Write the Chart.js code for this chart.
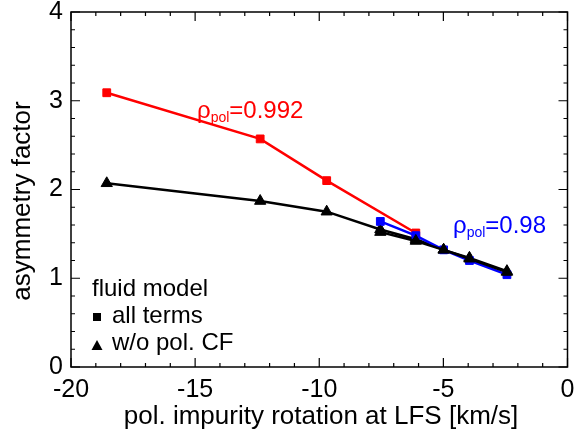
<!DOCTYPE html>
<html>
<head>
<meta charset="utf-8">
<script src="https://cdn.jsdelivr.net/npm/chart.js@4"></script>
<style>
html,body{margin:0;padding:0;background:#fff;}
#wrap{width:575px;height:430px;}
</style>
</head>
<body>
<div id="wrap"><canvas id="c" width="575" height="430"></canvas></div>
<script>
// Data
const xRed   = [-18.56, -12.38, -9.70, -6.11];
const yRed   = [3.09, 2.57, 2.10, 1.51];
const xBlue  = [-7.54, -6.11, -4.99, -3.95, -2.44];
const yBlue  = [1.64, 1.48, 1.32, 1.20, 1.04];
const xBlackA = [-18.56, -12.38, -9.70, -7.54, -6.11, -4.99, -3.95, -2.44];
const yBlackA = [2.07, 1.87, 1.75, 1.55, 1.44, 1.32, 1.23, 1.08];
const xBlackB = [-7.54, -6.11, -4.99, -3.95, -2.44];
const yBlackB = [1.52, 1.42, 1.32, 1.22, 1.07];
const xTicks = [-20, -15, -10, -5, 0];
const yTicks = [0, 1, 2, 3, 4];
const xTitle = 'pol. impurity rotation at LFS [km/s]';
const yTitle = 'asymmetry factor';

const FONT = '"Liberation Sans", Arial, sans-serif';
const pts = (xs, ys) => xs.map((x, i) => ({x: x, y: ys[i]}));

const boxTicks = {
  id: 'boxTicks',
  afterDraw(chart) {
    const ctx = chart.ctx, a = chart.chartArea;
    const xs = chart.scales.x, ys = chart.scales.y;
    ctx.save();
    ctx.strokeStyle = '#000';
    ctx.lineWidth = 1.5;
    ctx.strokeRect(a.left, a.top, a.right - a.left, a.bottom - a.top);
    ctx.lineWidth = 1.2;
    for (let v = -20; v <= 0; v += 1) {
      const p = xs.getPixelForValue(v);
      const L = (v % 5 === 0) ? 9 : 4;
      ctx.beginPath();
      ctx.moveTo(p, a.bottom); ctx.lineTo(p, a.bottom - L);
      ctx.moveTo(p, a.top); ctx.lineTo(p, a.top + L);
      ctx.stroke();
    }
    for (let k = 0; k <= 20; k++) {
      const v = k * 0.2;
      const p = ys.getPixelForValue(v);
      const L = (k % 5 === 0) ? 9 : 4;
      ctx.beginPath();
      ctx.moveTo(a.left, p); ctx.lineTo(a.left + L, p);
      ctx.moveTo(a.right, p); ctx.lineTo(a.right - L, p);
      ctx.stroke();
    }
    // axis titles
    ctx.fillStyle = '#000';
    ctx.font = '26px ' + FONT;
    ctx.textAlign = 'center';
    ctx.textBaseline = 'alphabetic';
    ctx.fillText(xTitle, 321, 424);
    ctx.save();
    ctx.translate(30, 201);
    ctx.rotate(-Math.PI / 2);
    ctx.fillText(yTitle, 0, 0);
    ctx.restore();
    // annotations
    function rho(x, y, color, val) {
      ctx.fillStyle = color;
      ctx.textBaseline = 'alphabetic';
      ctx.textAlign = 'left';
      ctx.font = '24px ' + FONT;
      ctx.fillText('\u03C1', x, y);
      let w = ctx.measureText('\u03C1').width;
      ctx.font = '14px ' + FONT;
      ctx.fillText('pol', x + w, y + 4);
      let w2 = ctx.measureText('pol').width;
      ctx.font = '24px ' + FONT;
      ctx.fillText('=' + val, x + w + w2, y);
    }
    rho(197, 118, '#ff0000', '0.992');
    rho(453, 233, '#0000ff', '0.98');
    // legend
    ctx.fillStyle = '#000';
    ctx.textAlign = 'left';
    ctx.font = '24px ' + FONT;
    ctx.fillText('fluid model', 92, 296);
    ctx.fillText('all terms', 112, 323);
    ctx.fillText('w/o pol. CF', 112, 350);
    ctx.fillRect(93, 313, 8, 8);
    ctx.beginPath();
    ctx.moveTo(97, 340); ctx.lineTo(102.5, 350); ctx.lineTo(91.5, 350); ctx.closePath();
    ctx.fill();
    ctx.restore();
  }
};

const ds = (data, color, style) => ({
  data: data,
  borderColor: color,
  backgroundColor: color,
  borderWidth: 2.5,
  pointStyle: style,
  pointRadius: style === 'triangle' ? 6.5 : 5.5,
  pointBorderWidth: 1,
  showLine: true,
  tension: 0
});

new Chart(document.getElementById('c'), {
  type: 'scatter',
  data: {
    datasets: [
      ds(pts(xBlackB, yBlackB), '#000000', 'triangle'),
      ds(pts(xBlue, yBlue), '#0000ff', 'rect'),
      ds(pts(xRed, yRed), '#ff0000', 'rect'),
      ds(pts(xBlackA, yBlackA), '#000000', 'triangle')
    ]
  },
  options: {
    responsive: false,
    animation: false,
    devicePixelRatio: 1,
    layout: {padding: {top: 12, right: 3, left: 0, bottom: 0}},
    plugins: {legend: {display: false}, tooltip: {enabled: false}},
    scales: {
      x: {
        type: 'linear', min: -20, max: 0,
        afterBuildTicks: s => { s.ticks = xTicks.map(v => ({value: v})); },
        afterFit: s => { s.height = 63; s.paddingLeft = 0; s.paddingRight = 0; },
        grid: {display: false, drawTicks: false},
        border: {display: false},
        ticks: {color: '#000', font: {family: FONT, size: 25}, padding: 8, maxRotation: 0,
                callback: v => String(v)},
        title: {display: false}
      },
      y: {
        type: 'linear', min: 0, max: 4,
        afterBuildTicks: s => { s.ticks = yTicks.map(v => ({value: v})); },
        afterFit: s => { s.width = 71; s.paddingTop = 0; s.paddingBottom = 0; },
        grid: {display: false, drawTicks: false},
        border: {display: false},
        ticks: {color: '#000', font: {family: FONT, size: 25}, padding: 8,
                callback: v => String(v)},
        title: {display: false}
      }
    }
  },
  plugins: [boxTicks]
});
</script>
</body>
</html>
